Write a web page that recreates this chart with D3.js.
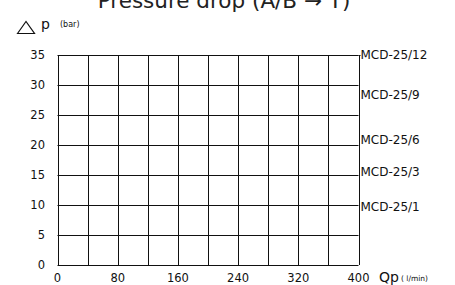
<!DOCTYPE html>
<html>
<head>
<meta charset="utf-8">
<script src="https://cdn.jsdelivr.net/npm/d3@7.9.0/dist/d3.min.js"></script>
<style>
  body { margin: 0; background: #fff; }
  svg { display: block; font-family: 'DejaVu Sans', sans-serif; }
</style>
</head>
<body>
<svg width="455" height="285"></svg>
<script>
const title = 'Pressure drop (A/B \u2192 T)';
const xTicks = [0, 80, 160, 240, 320, 400];
const xGrid = [0, 40, 80, 120, 160, 200, 240, 280, 320, 360, 400];
const yTicks = [0, 5, 10, 15, 20, 25, 30, 35];
// model names and the pressure level each label sits at
const models = ['MCD-25/12', 'MCD-25/9', 'MCD-25/6', 'MCD-25/3', 'MCD-25/1'];
const modelLevels = [35, 28.4, 20.9, 15.5, 9.7];

let svg = d3.select('svg');
let x = d3.scaleLinear().domain([0, 400]).range([57.5, 358.5]);
let y = d3.scaleLinear().domain([0, 35]).range([265, 55]);

// title (clipped at the top like the source)
svg.append('text')
  .attr('x', 224).attr('y', 8)
  .attr('text-anchor', 'middle')
  .attr('font-size', 21.5)
  .attr('fill', '#222')
  .text(title);

// delta p caption top-left
svg.append('path')
  .attr('d', 'M17.5,33.5 L26,21.5 L34.5,33.5 Z')
  .attr('fill', 'none')
  .attr('stroke', '#111')
  .attr('stroke-width', 1.2);
svg.append('text')
  .attr('x', 41).attr('y', 29)
  .attr('font-size', 14)
  .attr('fill', '#111')
  .text('p');
svg.append('text')
  .attr('x', 60).attr('y', 27)
  .attr('font-size', 8)
  .attr('fill', '#111')
  .text('(bar)');

// grid
let grid = svg.append('g').attr('stroke', '#111').attr('stroke-width', 1);
grid.selectAll('.v').data(xGrid).join('line')
  .attr('x1', (d) => Math.round(x(d)) + 0.5).attr('x2', (d) => Math.round(x(d)) + 0.5)
  .attr('y1', y(0)).attr('y2', y(35));
grid.selectAll('.h').data(yTicks).join('line')
  .attr('x1', x(0)).attr('x2', x(400))
  .attr('y1', (d) => Math.round(y(d)) + 0.5).attr('y2', (d) => Math.round(y(d)) + 0.5);

// y tick labels
svg.append('g').selectAll('text').data(yTicks).join('text')
  .attr('x', 45).attr('y', (d) => y(d))
  .attr('dy', '0.35em')
  .attr('text-anchor', 'end')
  .attr('font-size', 11.5)
  .attr('fill', '#111')
  .text((d) => d);

// x tick labels
svg.append('g').selectAll('text').data(xTicks).join('text')
  .attr('x', (d) => x(d)).attr('y', 282)
  .attr('text-anchor', 'middle')
  .attr('font-size', 11.5)
  .attr('fill', '#111')
  .text((d) => d);

// x axis caption
svg.append('text')
  .attr('x', 379).attr('y', 282)
  .attr('font-size', 14)
  .attr('fill', '#111')
  .text('Qp');
svg.append('text')
  .attr('x', 401).attr('y', 281)
  .attr('font-size', 7.5)
  .attr('fill', '#111')
  .text('( l/min)');

// model labels on the right
svg.append('line')
  .attr('x1', x(400)).attr('x2', x(400) + 2)
  .attr('y1', Math.round(y(35)) + 0.5).attr('y2', Math.round(y(35)) + 0.5)
  .attr('stroke', '#111');
svg.append('g').selectAll('text').data(models).join('text')
  .attr('x', x(400) + 2)
  .attr('y', (d, i) => y(modelLevels[i]))
  .attr('dy', '0.35em')
  .attr('font-size', 12)
  .attr('fill', '#111')
  .text((d) => d);
</script>
</body>
</html>
